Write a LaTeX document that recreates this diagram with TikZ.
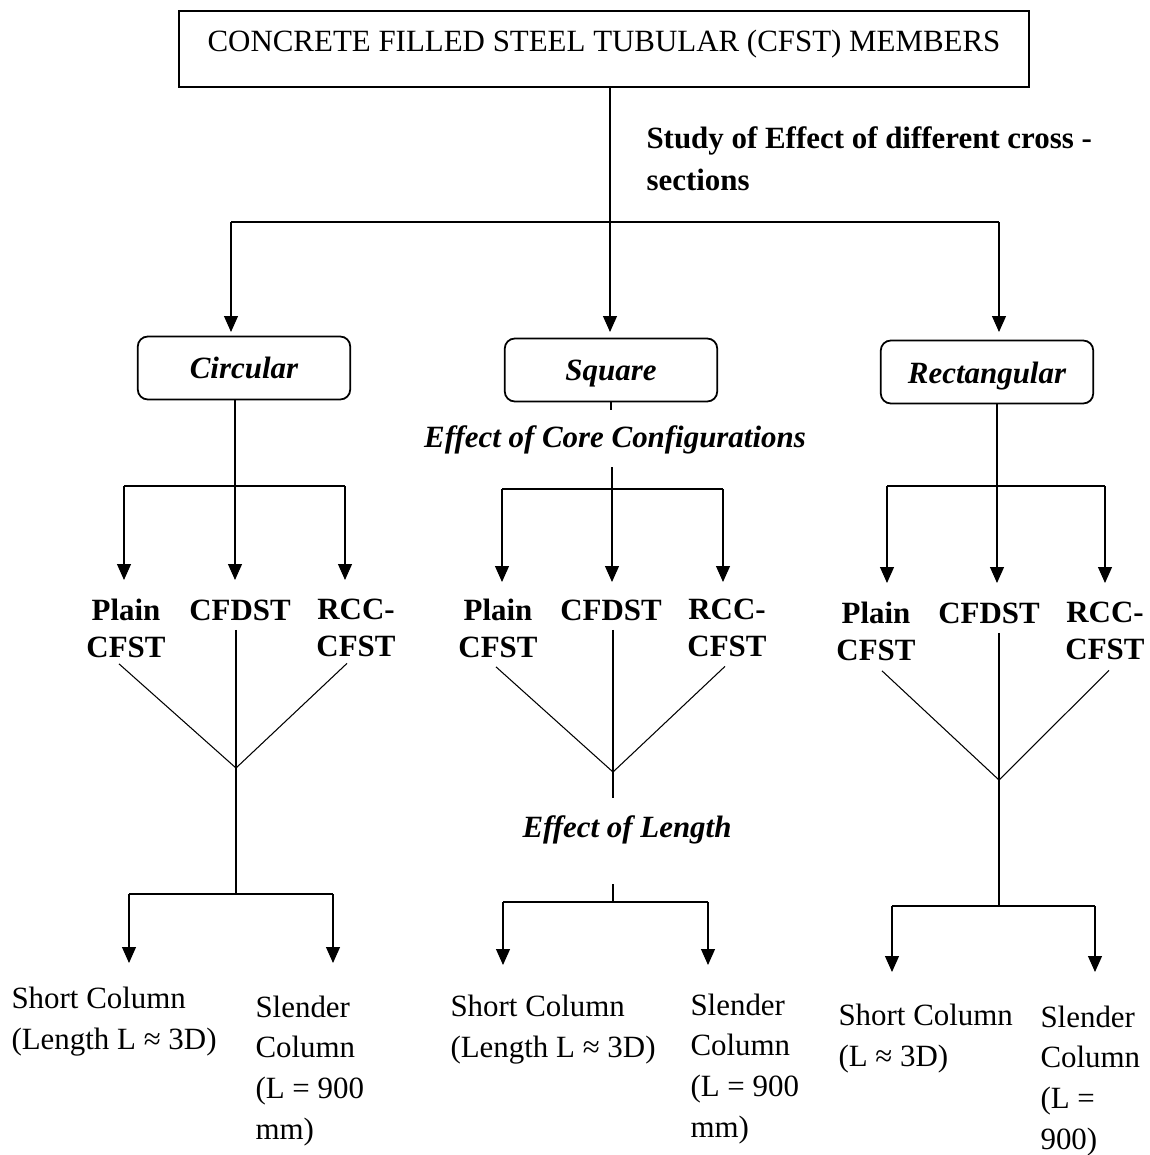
\documentclass[tikz,border=0pt]{standalone}
\usepackage{fontspec}
\setmainfont{Liberation Serif}
\usepackage{tikz}
\usetikzlibrary{arrows.meta}
\usetikzlibrary{positioning}
\usetikzlibrary{calc}

\begin{document}
\begin{tikzpicture} [x=0.02cm, y=-0.02cm, line width=0.6pt,
      txt/.style={inner sep=0pt, font=\fontsize{17.6}{23.3}\selectfont},
      topbox/.style={draw, line width=1pt, minimum width=17cm, inner ysep=0pt,
          text height=0.82cm, text depth=0.70cm, font=\fontsize{17.6}{23.3}\selectfont},
      secbox/.style={draw, rounded corners=0.2cm, line width=1pt, minimum width=4.25cm,
          minimum height=1.26cm, text height=0.55cm, text depth=0.11cm,
          font=\fontsize{17.6}{23.3}\selectfont\bfseries\itshape},
      core/.style={txt, align=center, font=\fontsize{17.6}{21}\selectfont\bfseries},
      effect/.style={txt, font=\fontsize{17.6}{23.3}\selectfont\bfseries\itshape},
      colnote/.style={txt, align=left, anchor=west},
      arr/.style={-{Triangle[length=0.32cm,width=0.28cm]}},
      bar/.style={line width=1.2pt}]
    \useasboundingbox (0,0) rectangle (1149,1155);

    \node[topbox, anchor=base] (cfst) at (604,52) {CONCRETE FILLED STEEL TUBULAR (CFST) MEMBERS};
    \node[txt, align=left, anchor=north west, font=\fontsize{17.6}{23.8}\selectfont\bfseries]
        (study) at (646,126) {Study of Effect of different cross -\\sections};

    \coordinate (split) at (610,222);
    \coordinate (bl) at (231,222);
    \coordinate (br) at (999,222);
    \draw (cfst.south -| split) -- (split);
    \draw[bar] (bl) -- (br);

    \node[secbox] (circ) at (244,368) {Circular};
    \node[secbox] (sq) at (611,370) {Square};
    \node[secbox] (rect) at (987,372) {Rectangular};
    \draw[arr] (bl) -- ++(0,110);
    \draw[arr] (split) -- ++(0,110);
    \draw[arr] (br) -- ++(0,110);

    % circular
    \coordinate (cj) at (235,486);
    \coordinate (cjl) at (124,486);
    \coordinate (cjr) at (345,486);
    \draw (circ.south -| cj) -- (cj);
    \draw[bar] (cjl) -- (cjr);
    \draw[arr] (cjl) -- ++(0,94);
    \draw[arr] (cj) -- ++(0,94);
    \draw[arr] (cjr) -- ++(0,94);
    \node[core] (cpl) at (126,628) {Plain\\CFST};
    \node[core] (cdst) at (240,610) {CFDST};
    \node[core] (crcc) at (356,628) {RCC-\\CFST};
    \coordinate (cv) at (236,768);
    \coordinate (cb) at (236,894);
    \coordinate (cbl) at (129,894);
    \coordinate (cbr) at (333,894);
    \draw ($(cpl.south)+(-7,6)$) -- (cv) -- ($(crcc.south)+(-9,6)$);
    \draw[shorten <=0.18cm] (cb |- cdst.south) -- (cb);
    \draw[bar] (cbl) -- (cbr);
    \draw[arr] (cbl) -- ++(0,69);
    \draw[arr] (cbr) -- ++(0,69);
    \node[colnote] (cshort) at (11,1022) {Short Column\\(Length L ≈ 3D)};
    \node[colnote] (cslen) at (255,1071) {Slender\\Column\\(L = 900\\mm)};

    % square
    \node[effect] (sqcore) at (615,440) {Effect of Core Configurations};
    \coordinate (sj) at (612,489);
    \coordinate (sjl) at (502,489);
    \coordinate (sjr) at (723,489);
    \draw (sq.south) -- ++(0,8);
    \draw (sj) -- ++(0,-22);
    \draw[bar] (sjl) -- (sjr);
    \draw[arr] (sjl) -- ++(0,93);
    \draw[arr] (sj) -- ++(0,93);
    \draw[arr] (sjr) -- ++(0,93);
    \node[core] (spl) at (498,628) {Plain\\CFST};
    \node[core] (sdst) at (611,610) {CFDST};
    \node[core] (srcc) at (727,628) {RCC-\\CFST};
    \coordinate (sv) at (613,772);
    \coordinate (sl) at (613,798);
    \draw ($(spl.south)+(-2,9)$) -- (sv) -- ($(srcc.south)+(-2,9)$);
    \draw[shorten <=0.18cm] (sv |- sdst.south) -- (sl);
    \node[effect] (slen) at (627,830) {Effect of Length};
    \coordinate (sb) at (613,902);
    \coordinate (sbl) at (503,902);
    \coordinate (sbr) at (708,902);
    \draw (sb) -- ++(0,-18);
    \draw[bar] (sbl) -- (sbr);
    \draw[arr] (sbl) -- ++(0,63);
    \draw[arr] (sbr) -- ++(0,63);
    \node[colnote] (sshort) at (450,1030) {Short Column\\(Length L ≈ 3D)};
    \node[colnote] (sslen) at (690,1069) {Slender\\Column\\(L = 900\\mm)};

    % rectangular
    \coordinate (rj) at (997,486);
    \coordinate (rjl) at (887,486);
    \coordinate (rjr) at (1105,486);
    \draw (rect.south -| rj) -- (rj);
    \draw[bar] (rjl) -- (rjr);
    \draw[arr] (rjl) -- ++(0,97);
    \draw[arr] (rj) -- ++(0,97);
    \draw[arr] (rjr) -- ++(0,97);
    \node[core] (rpl) at (876,631) {Plain\\CFST};
    \node[core] (rdst) at (989,613) {CFDST};
    \node[core] (rrcc) at (1105,631) {RCC-\\CFST};
    \coordinate (rv) at (999,780);
    \coordinate (rb) at (999,906);
    \coordinate (rbl) at (892,906);
    \coordinate (rbr) at (1095,906);
    \draw ($(rpl.south)+(6,10)$) -- (rv) -- ($(rrcc.south)+(4,10)$);
    \draw[shorten <=0.18cm] (rb |- rdst.south) -- (rb);
    \draw[bar] (rbl) -- (rbr);
    \draw[arr] (rbl) -- ++(0,66);
    \draw[arr] (rbr) -- ++(0,66);
    \node[colnote] (rshort) at (838,1039) {Short Column\\(L ≈ 3D)};
    \node[colnote] (rslen) at (1040,1081) {Slender\\Column\\(L =\\900)};
\end{tikzpicture}
\end{document}
